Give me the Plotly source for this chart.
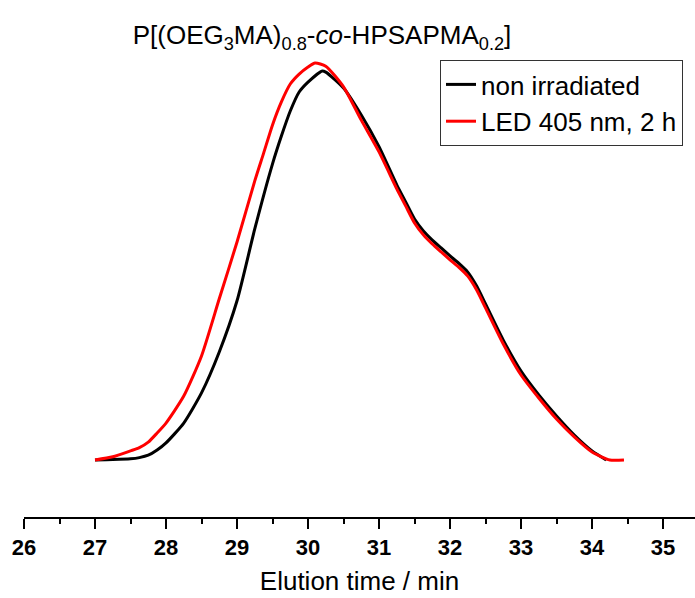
import plotly.graph_objects as go

# Elution time (min) and normalized detector signal
t_black = [27.0, 27.25, 27.5, 27.625, 27.75, 27.875, 28.0, 28.25, 28.5, 28.75, 29.0, 29.25, 29.5,
           29.625, 29.75, 29.875, 30.0, 30.2, 30.25, 30.5, 30.75, 31.0, 31.25, 31.375, 31.5,
           31.625, 31.75, 31.875, 32.0, 32.125, 32.25, 32.375, 32.5, 32.75, 33.0, 33.25, 33.5,
           33.75, 34.0, 34.2]
s_black = [0.0, 0.001, 0.003, 0.006, 0.012, 0.025, 0.043, 0.093, 0.169, 0.272, 0.401, 0.582, 0.746,
           0.816, 0.879, 0.927, 0.952, 0.980, 0.977, 0.937, 0.869, 0.789, 0.693, 0.650, 0.607,
           0.577, 0.554, 0.534, 0.514, 0.495, 0.473, 0.438, 0.393, 0.302, 0.224, 0.164, 0.111,
           0.063, 0.023, 0.0]

t_red = [27.0, 27.25, 27.5, 27.625, 27.75, 27.875, 28.0, 28.25, 28.5, 28.75, 29.0, 29.25, 29.375,
         29.5, 29.625, 29.75, 29.875, 30.0, 30.1, 30.25, 30.5, 30.75, 31.0, 31.25, 31.375, 31.5,
         31.625, 31.75, 31.875, 32.0, 32.125, 32.25, 32.375, 32.5, 32.75, 33.0, 33.25, 33.5,
         33.75, 34.0, 34.25, 34.45]
s_red = [0.0, 0.008, 0.023, 0.031, 0.045, 0.068, 0.093, 0.161, 0.262, 0.406, 0.549, 0.703, 0.773,
         0.844, 0.902, 0.947, 0.972, 0.990, 1.0, 0.992, 0.940, 0.856, 0.776, 0.683, 0.640, 0.597,
         0.567, 0.544, 0.524, 0.504, 0.485, 0.463, 0.428, 0.383, 0.292, 0.214, 0.156, 0.103,
         0.058, 0.020, 0.0, 0.0]

names = ["non irradiated", "LED 405 nm, 2 h"]
title_text = "P[(OEG<sub>3</sub>MA)<sub>0.8</sub>-<i>co</i>-HPSAPMA<sub>0.2</sub>]"
x_title = "Elution time / min"
tick_vals = list(range(26, 36))

FONT = "Liberation Sans, Arial, sans-serif"

fig = go.Figure()
fig.add_trace(go.Scatter(x=t_black, y=s_black, mode="lines", name=names[0],
                         line=dict(color="#000000", width=3, shape="spline", smoothing=0.6)))
fig.add_trace(go.Scatter(x=t_red, y=s_red, mode="lines", name=names[1],
                         line=dict(color="#ff0000", width=3, shape="spline", smoothing=0.6)))

fig.update_layout(
    width=695, height=598,
    margin=dict(l=24, r=0, t=50, b=81, autoexpand=False),
    paper_bgcolor="white", plot_bgcolor="white",
    font=dict(family=FONT, color="black"),
    title=dict(text=title_text, font=dict(size=26, family=FONT, color="black"),
               x=322 / 695, xref="container", xanchor="center",
               y=1 - 35 / 598, yref="container", yanchor="middle"),
    showlegend=True,
    legend=dict(x=(440 - 24) / 671, xanchor="left", y=(517 - 60) / 467, yanchor="top",
                bordercolor="#333333", borderwidth=1, bgcolor="white",
                font=dict(size=26, family=FONT, color="black"),
                tracegroupgap=0, itemwidth=30),
)

fig.update_xaxes(
    range=[26, 35.45], showgrid=False, zeroline=False, automargin=False,
    showline=True, linecolor="black", linewidth=2,
    ticks="outside", ticklen=10, tickwidth=2, tickcolor="black",
    tickvals=tick_vals,
    tickfont=dict(size=22, family=FONT, color="black", weight="bold"),
    minor=dict(ticks="outside", dtick=0.5, ticklen=5, tickwidth=2, tickcolor="black", showgrid=False),
    title=dict(text=x_title, font=dict(size=26, family=FONT, color="black"), standoff=12),
)
fig.update_yaxes(range=[-0.1436, 1.0327], visible=False)

fig.write_html("out.html",
               config={"displayModeBar": False},
               post_script="document.body.style.margin='0';document.body.style.overflow='hidden';")
